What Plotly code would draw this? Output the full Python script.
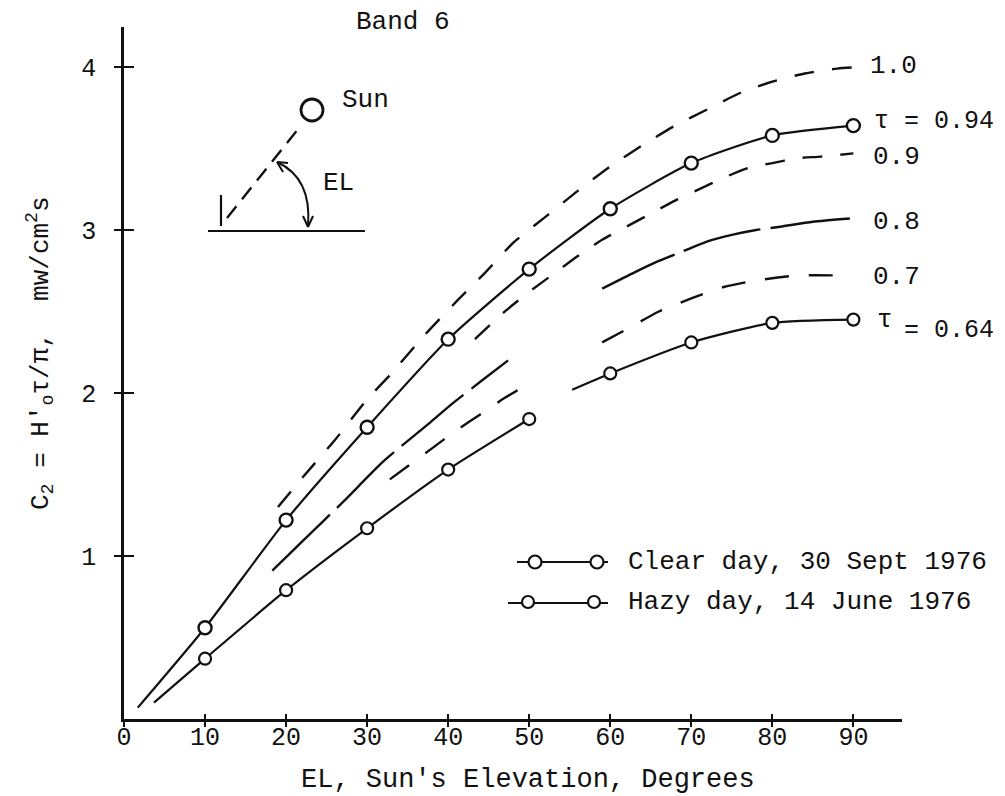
import plotly.graph_objects as go

# ---------------- data ----------------
el_marks = [10, 20, 30, 40, 50, 60, 70, 80, 90]
clear_c2 = [0.56, 1.22, 1.79, 2.33, 2.76, 3.13, 3.41, 3.58, 3.64]
hazy_c2 = [0.37, 0.79, 1.17, 1.53, 1.84, 2.12, 2.31, 2.43, 2.45]

clear_line_el = [1.7, 10, 20, 30, 40, 50, 60, 70, 80, 90]
clear_line_c2 = [0.07, 0.56, 1.22, 1.79, 2.33, 2.76, 3.13, 3.41, 3.58, 3.64]
hazy_line_el = [3.7, 10, 20, 30, 40, 50, None, 55.3, 60, 70, 80, 90]
hazy_line_c2 = [0.10, 0.37, 0.79, 1.17, 1.53, 1.84, None, 2.02, 2.12, 2.31, 2.43, 2.45]

tau10_el = [19, 22, 26, 30, 33, 37, 41, 44.6, 48, 52, 56, 60, 64, 68, 72, 76, 80, 84, 88, 91]
tau10_c2 = [1.30, 1.48, 1.71, 1.96, 2.12, 2.35, 2.56, 2.74, 2.92, 3.08, 3.24, 3.39, 3.52, 3.64, 3.74, 3.84, 3.91, 3.96, 3.99, 4.00]

tau09_el = [43.3, 47, 50, 53, 56, 59, 62, 65, 68, 71, 74, 77, 80, 83, 86, 90]
tau09_c2 = [2.33, 2.50, 2.62, 2.73, 2.84, 2.94, 3.02, 3.10, 3.18, 3.25, 3.32, 3.38, 3.41, 3.44, 3.45, 3.47]

tau08_el = [18.3, 22, 27, 32, 37.8, 40.4, 44, 47.4, None, 59, 63, 66, 69, 72, 75, 78, 81, 85, 89.6]
tau08_c2 = [0.91, 1.09, 1.33, 1.58, 1.82, 1.93, 2.07, 2.20, None, 2.64, 2.74, 2.81, 2.87, 2.93, 2.97, 3.00, 3.02, 3.05, 3.07]

tau07_el = [32.8, 35, 38, 41, 44, 47, 49, None, 59, 62, 66, 70, 74, 78, 83, 89.6]
tau07_c2 = [1.47, 1.55, 1.66, 1.77, 1.87, 1.97, 2.03, None, 2.31, 2.39, 2.50, 2.58, 2.65, 2.69, 2.72, 2.72]

x_ticks = [0, 10, 20, 30, 40, 50, 60, 70, 80, 90]
y_ticks = [1, 2, 3, 4]

# ---------------- layout geometry (screen pixels) ----------------
PAGE_OFF = 8                     # default body margin of the html page
W, H = 1005 - PAGE_OFF, 796 - PAGE_OFF
L, R, T, B = 124, 902, 27, 719   # plot area in screen pixels
X_RANGE = [0, 96]
Y_RANGE = [0, 4.245]
FONT = "Liberation Mono, Courier New, monospace"
INK = "#111111"


def px(x):
    return (x - L) / (R - L)


def py(y):
    return (B - y) / (B - T)


fig = go.Figure()


def add_line(xs, ys, dash="solid", width=2.2):
    fig.add_trace(go.Scatter(
        x=xs, y=ys, mode="lines",
        line=dict(color=INK, width=width, dash=dash, shape="spline", smoothing=0.6),
        connectgaps=False, hoverinfo="skip", showlegend=False))


add_line(tau10_el, tau10_c2, "20px,18px", 2.4)
add_line(tau09_el, tau09_c2, "20px,18px", 2.4)
add_line(tau08_el, tau08_c2, "80px,10px", 2.4)
add_line(tau07_el, tau07_c2, "24px,20px", 2.4)
add_line(clear_line_el, clear_line_c2, "solid", 2.2)
add_line(hazy_line_el, hazy_line_c2, "solid", 2.2)

fig.add_trace(go.Scatter(
    x=el_marks, y=clear_c2, mode="markers",
    marker=dict(symbol="circle", size=13, color="white", line=dict(color=INK, width=2.4)),
    hoverinfo="skip", showlegend=False))
fig.add_trace(go.Scatter(
    x=el_marks, y=hazy_c2, mode="markers",
    marker=dict(symbol="circle", size=12, color="white", line=dict(color=INK, width=2.2)),
    hoverinfo="skip", showlegend=False))

# invisible trace for overlay axes (inside ticks)
fig.add_trace(go.Scatter(x=[None], y=[None], xaxis="x2", yaxis="y2",
                         showlegend=False, hoverinfo="skip"))

axis_font = dict(family=FONT, size=25, color=INK)

fig.update_layout(
    width=W, height=H,
    margin=dict(l=L - PAGE_OFF, r=W - (R - PAGE_OFF), t=T - PAGE_OFF, b=H - (B - PAGE_OFF), pad=0),
    paper_bgcolor="white", plot_bgcolor="white",
    showlegend=False,
    font=dict(family=FONT, color=INK),
    xaxis=dict(range=X_RANGE, tickvals=x_ticks, ticktext=[str(v) for v in x_ticks],
               showgrid=False, zeroline=False, showline=True, linecolor=INK, linewidth=2.5,
               ticks="outside", ticklen=5, tickwidth=2, tickcolor=INK,
               tickfont=axis_font, ticklabelstandoff=-12, fixedrange=True),
    yaxis=dict(range=Y_RANGE, tickvals=y_ticks, ticktext=[str(v) for v in y_ticks],
               showgrid=False, zeroline=False, showline=True, linecolor=INK, linewidth=2.5,
               ticks="outside", ticklen=7, tickwidth=2, tickcolor=INK,
               tickfont=axis_font, ticklabelstandoff=13, fixedrange=True),
    xaxis2=dict(range=X_RANGE, overlaying="x", anchor="y2", side="bottom",
                tickvals=x_ticks[1:], ticks="inside", ticklen=5, tickwidth=2, tickcolor=INK,
                showticklabels=False, showgrid=False, zeroline=False, showline=False),
    yaxis2=dict(range=Y_RANGE, overlaying="y", anchor="x2", side="left",
                tickvals=y_ticks, ticks="inside", ticklen=10, tickwidth=2, tickcolor=INK,
                showticklabels=False, showgrid=False, zeroline=False, showline=False),
)


def note(text, x, y, xanchor="left", yanchor="middle", size=26, angle=0):
    fig.add_annotation(text=text, x=px(x), y=py(y), xref="paper", yref="paper",
                       xanchor=xanchor, yanchor=yanchor, showarrow=False,
                       textangle=angle, font=dict(family=FONT, size=size, color=INK))


# axis titles
note("EL, Sun's Elevation, Degrees", 528, 780, xanchor="center", size=27)
note("C<sub>2</sub> = H'<sub>o</sub>τ/π,  mw/cm<sup>2</sup>s", 40, 353, xanchor="center", angle=-90)
note("Band 6", 403, 22, xanchor="center")

# curve labels
note("1.0", 868, 66)
note("τ = 0.94", 872, 122, size=25)
note("0.9", 871, 157)
note("0.8", 871, 222)
note("0.7", 871, 277)
note("τ", 875, 320)
note("= 0.64", 902, 330, size=25)

# legend
note("Clear day, 30 Sept 1976", 626, 562, size=26)
note("Hazy day, 14 June 1976", 626, 602, size=26)


def seg(x0, y0, x1, y1, width=2.2, dash="solid"):
    fig.add_shape(type="line", x0=px(x0), y0=py(y0), x1=px(x1), y1=py(y1),
                  xref="paper", yref="paper", line=dict(color=INK, width=width, dash=dash))


def ring(cx, cy, r, width=2.2):
    fig.add_shape(type="circle", x0=px(cx - r), x1=px(cx + r), y0=py(cy + r), y1=py(cy - r),
                  xref="paper", yref="paper", fillcolor="white",
                  line=dict(color=INK, width=width))


# legend glyphs
seg(517, 562, 608, 562)
ring(535, 562, 6.5)
ring(597, 562, 6.5)
seg(508, 603, 608, 603)
ring(528, 602, 6)
ring(594, 602, 6)

# sun diagram
ring(312, 110, 11, 2.8)
seg(227, 218, 299, 128, 2.4, "15px,9px")
seg(221, 195, 221, 226, 2.2)
seg(208, 231, 365, 231, 2.2)
path = "M {},{} Q {},{} {},{}".format(px(277), py(162), px(312), py(178), px(308), py(226))
fig.add_shape(type="path", path=path, xref="paper", yref="paper",
              line=dict(color=INK, width=2))
seg(303, 216, 308, 227, 2)
seg(313, 216, 308, 227, 2)
seg(277, 162, 288, 163, 2)
seg(277, 162, 283, 172, 2)
note("Sun", 340, 100)
note("EL", 338, 183, xanchor="center")

fig.write_html("out.html")
